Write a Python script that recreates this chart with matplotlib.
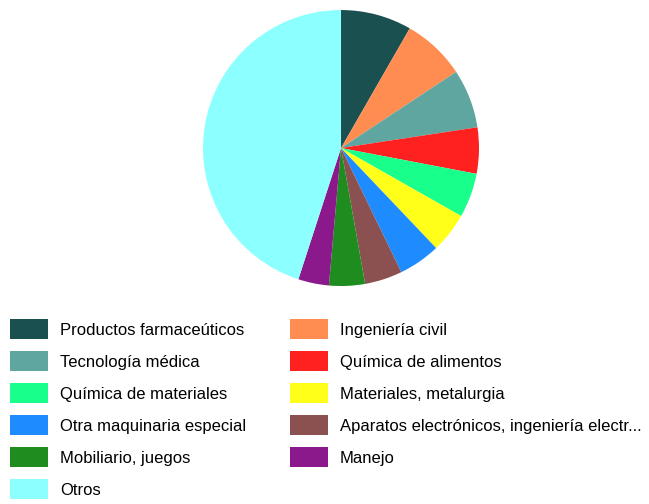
import matplotlib.pyplot as plt
from matplotlib.patches import Patch

# data (percent shares, clockwise from 12 o'clock)
labels = ['Productos farmaceúticos', 'Ingeniería civil', 'Tecnología médica',
          'Química de alimentos', 'Química de materiales', 'Materiales, metalurgia',
          'Otra maquinaria especial', 'Aparatos electrónicos, ingeniería electr...',
          'Mobiliario, juegos', 'Manejo', 'Otros']
shares = [8.3, 7.4, 6.9, 5.4, 5.2, 4.7, 4.9, 4.4, 4.2, 3.6, 45.0]
colors = ['#1a5050', '#ff8c50', '#5fa5a0', '#ff2020', '#19ff8c', '#ffff19',
          '#1e8cff', '#8b5050', '#1e8c1e', '#8b198b', '#8cffff']

plt.rcParams['font.family'] = ['Liberation Sans', 'DejaVu Sans']

fig = plt.figure(figsize=(6.49, 5.04), dpi=100)
ax = fig.add_axes([0.3128, 0.4325, 0.4253, 0.5476])
ax.pie(shares, colors=colors, startangle=90, counterclock=False,
       wedgeprops=dict(linewidth=0))
ax.set_xlim(-1, 1)
ax.set_ylim(-1, 1)
ax.set_aspect('equal')

# legend is laid out row by row in the reference, so reorder for column fill
handles = [Patch(facecolor=c, edgecolor='none') for c in colors]
order = [0, 2, 4, 6, 8, 10, 1, 3, 5, 7, 9]
fig.legend([handles[i] for i in order], [labels[i] for i in order],
           ncol=2, loc='upper left', bbox_to_anchor=(10 / 649, 1 - 319 / 504),
           frameon=False, fontsize=12, handlelength=2.28, handleheight=1.5,
           handletextpad=0.72, labelspacing=0.70, columnspacing=2.62,
           borderaxespad=0, borderpad=0)

fig.savefig('out.png', dpi=100)
